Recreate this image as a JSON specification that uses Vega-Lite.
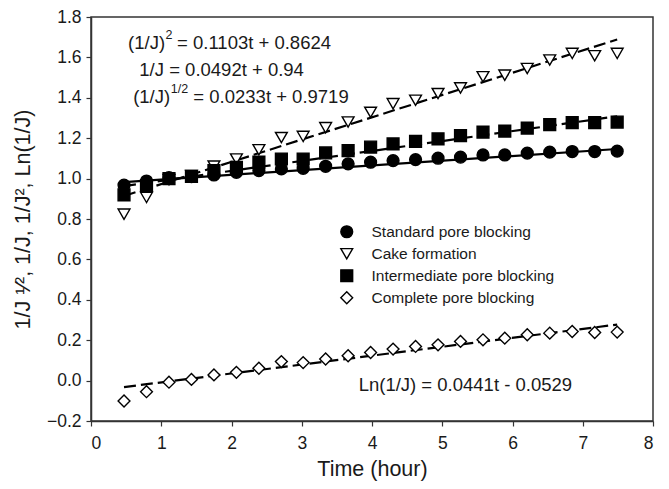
{
  "$schema": "https://vega.github.io/schema/vega-lite/v6.json",
  "width": 562,
  "height": 404,
  "autosize": {"type": "none"},
  "padding": {"left": 91, "top": 17, "right": 16, "bottom": 68},
  "background": "white",
  "config": {
    "font": "Liberation Sans",
    "view": {"stroke": "#333", "strokeWidth": 1.5},
    "axis": {
      "grid": false, "domainColor": "#333", "domainWidth": 1.5,
      "tickColor": "#333", "tickWidth": 1.2, "tickSize": 5,
      "labelFont": "Liberation Sans", "labelFontSize": 17.5, "labelColor": "#1a1a1a", "labelPadding": 5,
      "titleFont": "Liberation Sans", "titleFontSize": 21.5, "titleFontWeight": "normal", "titleColor": "#1a1a1a"
    },
    "legend": {
      "labelFont": "Liberation Sans", "labelFontSize": 15.5, "labelColor": "#1a1a1a", "labelLimit": 400,
      "labelOffset": 17, "rowPadding": 4, "padding": 0, "symbolSize": 140,
      "symbolStrokeWidth": 1.4
    }
  },
  "datasets": {
    "points": [
      {"series":"Cake formation","t":0.47,"v":0.824},{"series":"Cake formation","t":0.79,"v":0.907},{"series":"Cake formation","t":1.11,"v":0.995},{"series":"Cake formation","t":1.43,"v":1.015},{"series":"Cake formation","t":1.75,"v":1.062},{"series":"Cake formation","t":2.07,"v":1.097},{"series":"Cake formation","t":2.39,"v":1.143},{"series":"Cake formation","t":2.71,"v":1.203},{"series":"Cake formation","t":3.02,"v":1.209},{"series":"Cake formation","t":3.34,"v":1.252},{"series":"Cake formation","t":3.66,"v":1.28},{"series":"Cake formation","t":3.98,"v":1.328},{"series":"Cake formation","t":4.3,"v":1.371},{"series":"Cake formation","t":4.62,"v":1.388},{"series":"Cake formation","t":4.94,"v":1.421},{"series":"Cake formation","t":5.26,"v":1.449},{"series":"Cake formation","t":5.58,"v":1.504},{"series":"Cake formation","t":5.89,"v":1.512},{"series":"Cake formation","t":6.21,"v":1.545},{"series":"Cake formation","t":6.53,"v":1.587},{"series":"Cake formation","t":6.85,"v":1.62},{"series":"Cake formation","t":7.17,"v":1.608},{"series":"Cake formation","t":7.49,"v":1.62},
      {"series":"Complete pore blocking","t":0.47,"v":-0.101},{"series":"Complete pore blocking","t":0.79,"v":-0.055},{"series":"Complete pore blocking","t":1.11,"v":-0.008},{"series":"Complete pore blocking","t":1.43,"v":0.006},{"series":"Complete pore blocking","t":1.75,"v":0.028},{"series":"Complete pore blocking","t":2.07,"v":0.041},{"series":"Complete pore blocking","t":2.39,"v":0.061},{"series":"Complete pore blocking","t":2.71,"v":0.094},{"series":"Complete pore blocking","t":3.02,"v":0.089},{"series":"Complete pore blocking","t":3.34,"v":0.107},{"series":"Complete pore blocking","t":3.66,"v":0.123},{"series":"Complete pore blocking","t":3.98,"v":0.139},{"series":"Complete pore blocking","t":4.3,"v":0.156},{"series":"Complete pore blocking","t":4.62,"v":0.169},{"series":"Complete pore blocking","t":4.94,"v":0.177},{"series":"Complete pore blocking","t":5.26,"v":0.194},{"series":"Complete pore blocking","t":5.58,"v":0.202},{"series":"Complete pore blocking","t":5.89,"v":0.21},{"series":"Complete pore blocking","t":6.21,"v":0.227},{"series":"Complete pore blocking","t":6.53,"v":0.235},{"series":"Complete pore blocking","t":6.85,"v":0.243},{"series":"Complete pore blocking","t":7.17,"v":0.238},{"series":"Complete pore blocking","t":7.49,"v":0.24},
      {"series":"Intermediate pore blocking","t":0.47,"v":0.92},{"series":"Intermediate pore blocking","t":0.79,"v":0.965},{"series":"Intermediate pore blocking","t":1.11,"v":1.0},{"series":"Intermediate pore blocking","t":1.43,"v":1.011},{"series":"Intermediate pore blocking","t":1.75,"v":1.04},{"series":"Intermediate pore blocking","t":2.07,"v":1.056},{"series":"Intermediate pore blocking","t":2.39,"v":1.081},{"series":"Intermediate pore blocking","t":2.71,"v":1.097},{"series":"Intermediate pore blocking","t":3.02,"v":1.097},{"series":"Intermediate pore blocking","t":3.34,"v":1.127},{"series":"Intermediate pore blocking","t":3.66,"v":1.139},{"series":"Intermediate pore blocking","t":3.98,"v":1.156},{"series":"Intermediate pore blocking","t":4.3,"v":1.172},{"series":"Intermediate pore blocking","t":4.62,"v":1.184},{"series":"Intermediate pore blocking","t":4.94,"v":1.197},{"series":"Intermediate pore blocking","t":5.26,"v":1.213},{"series":"Intermediate pore blocking","t":5.58,"v":1.23},{"series":"Intermediate pore blocking","t":5.89,"v":1.235},{"series":"Intermediate pore blocking","t":6.21,"v":1.25},{"series":"Intermediate pore blocking","t":6.53,"v":1.267},{"series":"Intermediate pore blocking","t":6.85,"v":1.277},{"series":"Intermediate pore blocking","t":7.17,"v":1.277},{"series":"Intermediate pore blocking","t":7.49,"v":1.28},
      {"series":"Standard pore blocking","t":0.47,"v":0.968},{"series":"Standard pore blocking","t":0.79,"v":0.988},{"series":"Standard pore blocking","t":1.11,"v":1.005},{"series":"Standard pore blocking","t":1.43,"v":1.01},{"series":"Standard pore blocking","t":1.75,"v":1.018},{"series":"Standard pore blocking","t":2.07,"v":1.031},{"series":"Standard pore blocking","t":2.39,"v":1.04},{"series":"Standard pore blocking","t":2.71,"v":1.048},{"series":"Standard pore blocking","t":3.02,"v":1.051},{"series":"Standard pore blocking","t":3.34,"v":1.061},{"series":"Standard pore blocking","t":3.66,"v":1.073},{"series":"Standard pore blocking","t":3.98,"v":1.081},{"series":"Standard pore blocking","t":4.3,"v":1.089},{"series":"Standard pore blocking","t":4.62,"v":1.094},{"series":"Standard pore blocking","t":4.94,"v":1.101},{"series":"Standard pore blocking","t":5.26,"v":1.106},{"series":"Standard pore blocking","t":5.58,"v":1.117},{"series":"Standard pore blocking","t":5.89,"v":1.117},{"series":"Standard pore blocking","t":6.21,"v":1.126},{"series":"Standard pore blocking","t":6.53,"v":1.131},{"series":"Standard pore blocking","t":6.85,"v":1.134},{"series":"Standard pore blocking","t":7.17,"v":1.134},{"series":"Standard pore blocking","t":7.49,"v":1.136}
    ],
    "fitsDashed": [
      {"series":"Cake formation","t":0.47,"v":0.9142},{"series":"Cake formation","t":7.49,"v":1.6885},
      {"series":"Intermediate pore blocking","t":0.47,"v":0.9631},{"series":"Intermediate pore blocking","t":7.49,"v":1.3085},
      {"series":"Complete pore blocking","t":0.47,"v":-0.0322},{"series":"Complete pore blocking","t":7.49,"v":0.2774}
    ],
    "fitsSolid": [
      {"series":"Standard pore blocking","t":0.47,"v":0.9829},{"series":"Standard pore blocking","t":7.49,"v":1.1464}
    ],
    "eqRight": [
      {"t":1.054,"v":1.67,"label":"(1/J)"},
      {"t":1.127,"v":1.404,"label":"(1/J)"}
    ],
    "eqSup": [
      {"t":1.06,"v":1.67,"label":"2"},
      {"t":1.135,"v":1.404,"label":"1/2"}
    ],
    "eqLeft": [
      {"t":1.225,"v":1.67,"label":"= 0.1103t + 0.8624"},
      {"t":0.688,"v":1.537,"label":"1/J = 0.0492t + 0.94"},
      {"t":1.457,"v":1.404,"label":"= 0.0233t + 0.9719"},
      {"t":3.81,"v":-0.022,"label":"Ln(1/J) = 0.0441t - 0.0529"}
    ]
  },
  "encoding": {
    "x": {
      "field": "t", "type": "quantitative",
      "scale": {"domain": [0, 8], "nice": false, "zero": false},
      "axis": {"title": "Time (hour)", "values": [0,1,2,3,4,5,6,7,8], "format": "d", "labelPadding": 8, "titlePadding": 7}
    },
    "y": {
      "field": "v", "type": "quantitative",
      "scale": {"domain": [-0.2, 1.8], "nice": false, "zero": false},
      "axis": {"title": "1/J ¹⁄², 1/J, 1/J², Ln(1/J)", "values": [-0.2,0,0.2,0.4,0.6,0.8,1,1.2,1.4,1.6,1.8], "format": ".1f", "titlePadding": 12}
    }
  },
  "layer": [
    {
      "data": {"name": "fitsDashed"},
      "mark": {"type": "line", "color": "black", "strokeWidth": 2.2, "strokeDash": [12, 5]},
      "encoding": {"detail": {"field": "series"}}
    },
    {
      "data": {"name": "fitsSolid"},
      "mark": {"type": "line", "color": "black", "strokeWidth": 2.2},
      "encoding": {"detail": {"field": "series"}}
    },
    {
      "data": {"name": "points"},
      "mark": {"type": "point", "filled": true, "strokeWidth": 1.4, "opacity": 1, "size": 140},
      "encoding": {
        "shape": {
          "field": "series", "type": "nominal",
          "scale": {"domain": ["Standard pore blocking","Cake formation","Intermediate pore blocking","Complete pore blocking"], "range": ["circle","triangle-down","square","diamond"]},
          "legend": {"title": null, "orient": "none", "legendX": 248, "legendY": 207}
        },
        "fill": {
          "field": "series", "type": "nominal",
          "scale": {"domain": ["Standard pore blocking","Cake formation","Intermediate pore blocking","Complete pore blocking"], "range": ["black","white","black","white"]},
          "legend": {"title": null, "orient": "none", "legendX": 248, "legendY": 207}
        },
        "stroke": {
          "field": "series", "type": "nominal",
          "scale": {"domain": ["Standard pore blocking","Cake formation","Intermediate pore blocking","Complete pore blocking"], "range": ["black","black","black","black"]},
          "legend": {"title": null, "orient": "none", "legendX": 248, "legendY": 207}
        }
      }
    },
    {
      "data": {"name": "eqRight"},
      "mark": {"type": "text", "align": "right", "baseline": "middle", "fontSize": 18.5, "color": "#1a1a1a"},
      "encoding": {"text": {"field": "label"}}
    },
    {
      "data": {"name": "eqSup"},
      "mark": {"type": "text", "align": "left", "baseline": "middle", "fontSize": 12.5, "dy": -8, "color": "#1a1a1a"},
      "encoding": {"text": {"field": "label"}}
    },
    {
      "data": {"name": "eqLeft"},
      "mark": {"type": "text", "align": "left", "baseline": "middle", "fontSize": 18.5, "color": "#1a1a1a"},
      "encoding": {"text": {"field": "label"}}
    }
  ]
}
